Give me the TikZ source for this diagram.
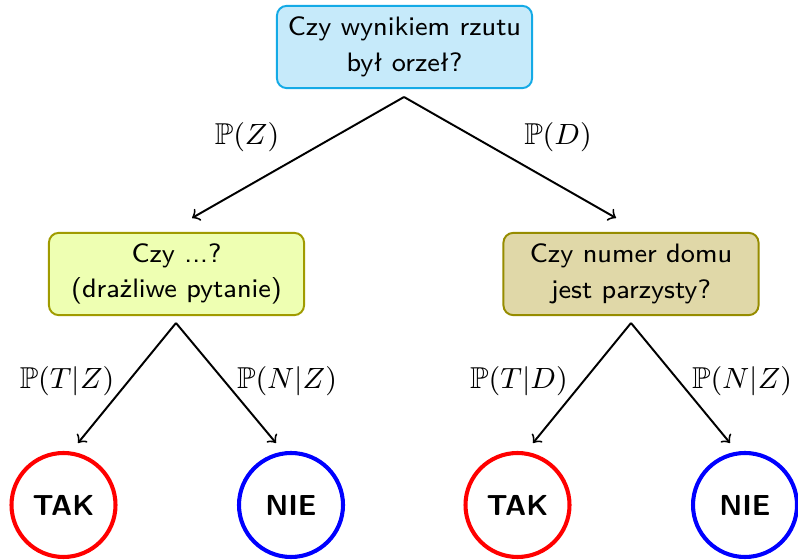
\documentclass[tikz,border=0pt]{standalone}
\usepackage{amssymb}
\definecolor{topfill}{RGB}{198,234,250}
\definecolor{topdraw}{RGB}{20,170,230}
\definecolor{lfill}{RGB}{238,255,178}
\definecolor{ldraw}{RGB}{160,155,0}
\definecolor{rfill}{RGB}{224,216,168}
\definecolor{rdraw}{RGB}{150,140,0}
\begin{document}
\begin{tikzpicture}[x=0.3077pt,y=-0.3077pt,
  qbox/.style={draw, rounded corners=3pt, line width=0.6pt, minimum width=78.5pt,
    minimum height=25.3pt, align=center, inner sep=0pt,
    font=\sffamily\fontsize{8.2}{11}\selectfont},
  leaf/.style={draw, circle, line width=1.25pt, minimum size=32pt, inner sep=0pt,
    font=\sffamily\bfseries\fontsize{8.9}{10}\selectfont},
  arr/.style={->, line width=0.6pt},
  lab/.style={inner sep=0pt, font=\fontsize{9.3}{11}\selectfont}]
\useasboundingbox (0,0) rectangle (798,560);

\node[qbox, fill=topfill, draw=topdraw] (top) at (404.5,47) {Czy wynikiem rzutu\\był orzeł?};
\node[qbox, fill=lfill, draw=ldraw] (lq) at (176.5,274) {Czy ...?\\(drażliwe pytanie)};
\node[qbox, fill=rfill, draw=rdraw] (rq) at (631,274) {Czy numer domu\\jest parzysty?};

\node[leaf, draw=red] (lt) at (63.5,505) {TAK};
\node[leaf, draw=blue] (ln) at (291,505) {NIE};
\node[leaf, draw=red] (rt) at (517.5,505) {TAK};
\node[leaf, draw=blue] (rn) at (745,505) {NIE};

\coordinate (t0) at (404,97);
\coordinate (tL) at (192,218);
\coordinate (tR) at (616,218);
\coordinate (l0) at (176,323);
\coordinate (lT) at (78,443);
\coordinate (lN) at (276,443);
\coordinate (r0) at (631,323);
\coordinate (rT) at (533,443);
\coordinate (rN) at (730,443);

\draw[arr] (t0) -- (tL);
\draw[arr] (t0) -- (tR);
\draw[arr] (l0) -- (lT);
\draw[arr] (l0) -- (lN);
\draw[arr] (r0) -- (rT);
\draw[arr] (r0) -- (rN);

\node[lab] (pz) at (247,137) {$\mathbb{P}(Z)$};
\node[lab] (pd) at (558,137) {$\mathbb{P}(D)$};
\node[lab] (ptz) at (67,381) {$\mathbb{P}(T|Z)$};
\node[lab] (pnz) at (287,381) {$\mathbb{P}(N|Z)$};
\node[lab] (ptd) at (519,381) {$\mathbb{P}(T|D)$};
\node[lab] (pnz2) at (742,381) {$\mathbb{P}(N|Z)$};
\end{tikzpicture}
\end{document}
